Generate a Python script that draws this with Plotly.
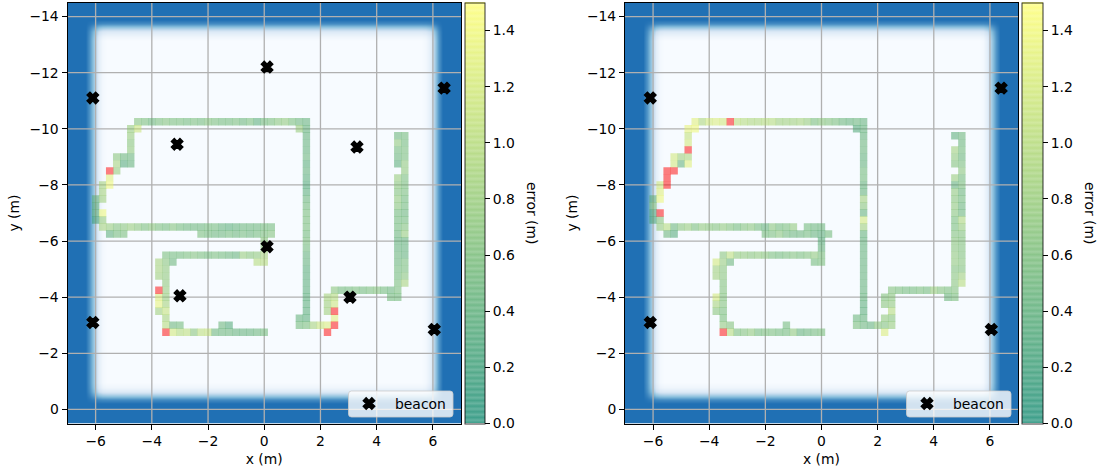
import plotly.graph_objects as go

R = 1.8  # value above the colour scale (drawn red)

beacon_x_left = [0.1, -6.1, 6.4, -3.1, 3.3, 0.1, -3.0, 3.05, -6.1, 6.05]
beacon_y_left = [-12.2, -11.1, -11.45, -9.45, -9.35, -5.8, -4.05, -4.0, -3.1, -2.85]
beacon_x_right = [-6.1, 6.4, -6.1, 6.05]
beacon_y_right = [-11.1, -11.45, -3.1, -2.85]

row_y = [-10.25, -10.0, -9.75, -9.5, -9.25, -9.0, -8.75, -8.5, -8.25, -8.0, -7.75, -7.5, -7.25, -7.0, -6.75,
         -6.5, -6.25, -6.0, -5.75, -5.5, -5.25, -5.0, -4.75, -4.5, -4.25, -4.0, -3.75, -3.5, -3.25, -3.0, -2.75]

left_x = [
    [-4.5, -4.25, -4, -3.75, -3.5, -3.25, -3, -2.75, -2.5, -2.25, -2, -1.75, -1.5, -1.25, -1, -.75, -.5, -.25, 0, .25, .5, .75, 1, 1.25, 1.5],
    [-4.75, -4.5, 1.25, 1.5],
    [-4.75, 1.5, 4.75, 5],
    [-4.75, 1.5, 4.75, 5],
    [-4.75, 1.5, 4.75, 5],
    [-5.25, -5, -4.75, 1.5, 4.75, 5],
    [-5.25, -5, -4.75, 1.5, 4.75, 5],
    [-5.5, -5.25, 1.5, 5],
    [-5.5, 1.5, 4.75, 5],
    [-5.75, -5.5, 1.5, 4.75, 5],
    [-5.75, 1.5, 4.75, 5],
    [-6, -5.75, 1.5, 4.75, 5],
    [-6, 1.5, 4.75, 5],
    [-6, -5.75, 1.5, 4.75, 5],
    [-6, -5.75, 1.5, 4.75, 5],
    [-5.75, -5.5, -5.25, -5, -4.75, -4.5, -4.25, -4, -3.75, -3.5, -3.25, -3, -2.75, -2.5, -2.25, -2, -1.75, -1.5, -1.25, -1, -.75, -.5, -.25, 0, .25, 1.5, 4.75, 5],
    [-5.5, -5.25, -5, -2.25, -2, -1.75, -1.5, -1.25, -1, -.75, -.5, -.25, 0, .25, 1.5, 4.75, 5],
    [0, 1.5, 4.75, 5],
    [0, 1.5, 4.75, 5],
    [-3.5, -3.25, -3, -2.75, -2.5, -2.25, -2, -1.75, -1.5, -1.25, -1, -.75, -.5, -.25, 0, 1.5, 4.75, 5],
    [-3.75, -3.5, -3.25, -.25, 0, 1.5, 4.75, 5],
    [-3.75, -3.5, 1.5, 4.75, 5],
    [-3.75, -3.5, 1.5, 4.75, 5],
    [-3.5, 1.5, 4.75, 5],
    [-3.75, -3.5, 1.5, 2.5, 2.75, 3, 3.25, 3.5, 3.75, 4, 4.25, 4.5, 4.75],
    [-3.75, -3.5, 1.5, 2.25, 2.5, 4.5, 4.75],
    [-3.75, -3.5, 1.5, 2.25, 2.5],
    [-3.75, -3.5, 1.5, 2.25, 2.5],
    [-3.5, 1.25, 1.5, 2.5],
    [-3.5, -3.25, -3, -1.5, -1.25, 1.25, 1.5, 1.75, 2, 2.25, 2.5],
    [-3.5, -3.25, -3, -2.75, -2.5, -2.25, -2, -1.75, -1.5, -1.25, -1, -.75, -.5, -.25, 0, 2.25],
]
left_err = [
    [.65, .6, .5, .6, .65, .6, .6, .55, .6, .55, .65, .6, .55, .55, .6, .5, .6, .4, .55, .6, .7, .75, .6, .5, .45],
    [.8, 1.15, .8, .45],
    [.8, .45, .5, .55],
    [.7, .45, .75, .55],
    [.75, .45, .55, .6],
    [.7, .5, .5, .5, .5, .6],
    [.9, .35, .45, .4, .4, .75],
    [R, .8, .45, .75],
    [1.3, .4, .8, .6],
    [.9, 1.4, .35, .7, .6],
    [.9, .4, .65, .6],
    [.5, .85, .5, .75, .55],
    [.45, .55, .7, .55],
    [.45, 1.4, .6, .55, .5],
    [.3, .8, .6, .55, .55],
    [.9, .8, .65, .7, .8, .7, .6, .7, .6, .55, .65, .55, .5, .5, .5, .55, .55, .45, .4, .45, .5, .5, .5, .55, .55, .6, .55, .65],
    [.4, .55, .6, .6, .55, .5, .5, .55, .5, .55, .5, .55, .6, .65, .55, .5, .8],
    [.7, .6, .45, .45],
    [.7, .55, .45, .45],
    [.6, .55, .55, .6, .65, .6, .55, .6, .55, .5, .45, .8, .7, .75, .9, .45, .5, .45],
    [.9, .7, .5, 1.0, 1.0, .45, .5, .6],
    [.9, .75, .4, .55, .6],
    [.85, .75, .4, .55, .7],
    [.75, .4, .6, .9],
    [R, .8, .4, .7, .55, .55, .6, .55, .6, .65, .55, .5, .6],
    [1.25, .8, .4, .9, 1.0, .55, .55],
    [1.35, .9, .4, .85, 1.15],
    [.85, 1.1, .4, .85, R],
    [.9, .45, .4, 1.3],
    [1.0, .5, .55, .5, .35, .55, .6, .9, 1.15, 1.25, R],
    [R, 1.2, 1.0, 1.05, .7, 1.05, 1.1, .5, .5, .5, .45, .45, .45, .5, .55, R],
]

right_x = [
    [-4.5, -4.25, -4, -3.75, -3.5, -3.25, -3, -2.75, -2.5, -2.25, -2, -1.75, -1.5, -1.25, -1, -.75, -.5, -.25, 0, .25, .5, .75, 1, 1.25, 1.5],
    [-4.75, -4.5, 1.25, 1.5],
    [-4.75, 1.5, 4.75, 5],
    [-4.75, 1.5, 5],
    [-4.75, 1.5, 4.75, 5],
    [-5.25, -5, -4.75, 1.5, 4.75, 5],
    [-5.25, -5, -4.75, 1.5, 4.75, 5],
    [-5.5, -5.25, 1.5, 5],
    [-5.5, 1.5, 4.75, 5],
    [-5.75, -5.5, 1.5, 4.75, 5],
    [-5.75, 1.5, 4.75, 5],
    [-6, -5.75, 1.5, 4.75, 5],
    [-6, 1.5, 4.75, 5],
    [-6, -5.75, 1.5, 4.75, 5],
    [-6, -5.75, 1.5, 4.75, 5],
    [-5.75, -5.5, -5.25, -5, -4.75, -4.5, -4.25, -4, -3.75, -3.5, -3.25, -3, -2.75, -2.5, -2.25, -2, -1.75, -1.5, -1.25, -1, -.5, -.25, 0, 1.5, 4.75, 5],
    [-5.5, -5.25, -2, -1.75, -1.5, -1.25, -1, -.75, -.5, -.25, 0, .25, 1.5, 4.75, 5],
    [0, 1.5, 4.75, 5],
    [0, 1.5, 4.75, 5],
    [-3.5, -3.25, -3, -2.75, -2.5, -2.25, -2, -1.75, -1.5, -1.25, -1, -.75, -.5, -.25, 0, 1.5, 4.75, 5],
    [-3.75, -3.5, -3.25, -.25, 0, 1.5, 4.75, 5],
    [-3.75, -3.5, 1.5, 4.75, 5],
    [-3.75, -3.5, 1.5, 4.75, 5],
    [-3.5, 1.5, 4.75, 5],
    [-3.5, 1.5, 2.5, 2.75, 3, 3.25, 3.5, 3.75, 4, 4.25, 4.5, 4.75],
    [-3.75, -3.5, 1.5, 2.25, 2.5, 4.5, 4.75],
    [-3.75, -3.5, 1.5, 2.25, 2.5],
    [-3.75, -3.5, 1.5, 2.5],
    [-3.5, 1.25, 1.5, 2.25, 2.5],
    [-3.5, -3.25, -1.25, 1.25, 1.5, 1.75, 2, 2.25, 2.5],
    [-3.5, -3.25, -3, -2.75, -2.5, -2.25, -2, -1.75, -1.5, -1.25, -1, -.75, -.5, -.25, 0, 2.25],
]
right_err = [
    [1.3, .95, 1.2, 1.25, 1.2, R, 1.05, 1.0, .95, .95, 1.0, 1.0, .85, .85, .85, .9, .8, .6, .7, .65, .6, .5, .45, .5, .45],
    [1.35, 1.4, .35, .45],
    [1.1, .45, .4, .5],
    [1.2, .5, .5],
    [R, .5, .85, .55],
    [1.2, .85, .95, .45, .75, .5],
    [1.2, .45, 1.3, .45, .65, .6],
    [R, R, .55, .7],
    [R, .55, .8, .55],
    [1.2, R, .45, .45, .6],
    [1.3, .45, .75, .5],
    [.5, 1.4, .85, .7, .55],
    [.7, .7, .75, .5],
    [.4, R, .45, .7, .5],
    [.35, .7, 1.2, .6, .95],
    [.8, 1.0, .5, .7, .8, .6, .75, .7, .65, .75, .65, .55, .65, .7, .55, .45, .7, .55, .6, .75, .55, .5, .5, .85, .6, .8],
    [.5, .35, .55, .6, .7, .55, .5, .5, .55, .45, .4, .55, .45, .65, .65],
    [.4, .45, .7, .65],
    [.45, .45, .7, .65],
    [.7, 1.05, .75, .75, .7, .75, .7, .6, .55, .6, .65, .6, .65, .75, .6, .45, .75, .65],
    [1.2, .8, .5, .55, .6, .45, .75, .7],
    [.85, .7, .45, .65, .65],
    [.85, .7, .45, .7, .85],
    [.65, .45, .7, 1.0],
    [.65, .45, .65, .6, .55, .55, .6, .55, .8, .65, .6, .65],
    [1.2, .65, .45, .65, .7, .5, .6],
    [.9, .65, .4, .7, .75],
    [.7, .6, .4, 1.0],
    [.6, .5, .45, .75, .7],
    [.75, .65, .55, .6, .5, .45, .7, .65, .8],
    [R, 1.0, .6, .65, .75, .55, .6, .6, .55, .55, .75, .45, .5, .55, .6, 1.25],
]

# background confidence map: fade values along each axis (1 = outside the mapped area)
bg_x = [-7, -6.35, -6.2, -6.05, -5.9, -5.75, -5.6, 5.6, 5.75, 5.9, 6.05, 6.2, 6.35, 7]
bg_x_fade = [1, 1, .8, .45, .15, .03, 0, 0, .03, .15, .45, .8, 1, 1]
bg_y = [-14.5, -13.9, -13.75, -13.6, -13.45, -13.3, -13.15, -0.95, -0.8, -0.65, -0.5, -0.35, -0.2, 0.5]
bg_y_fade = [1, 1, .85, .5, .2, .06, 0, 0, .06, .2, .5, .85, 1, 1]
bg_z = [[1 - (1 - a) * (1 - b) for a in bg_x_fade] for b in bg_y_fade]

x_ticks = [-6, -4, -2, 0, 2, 4, 6]
y_ticks = [-14, -12, -10, -8, -6, -4, -2, 0]

W, H = 1102, 474
FONT = "DejaVu Sans"
FS = 13.9
TOP, BOTTOM = 2.5, 423.5
summer = [[0, "rgba(0,128,102,0.5)"], [1, "rgba(255,255,102,0.5)"]]
blues = [[0, "#f7fbff"], [0.3, "#cfe1f2"], [0.6, "#84bcdb"], [1, "#2070b4"]]

# colour bar: same colormap, with the stripes of overlapping translucent bands
BANDS = 150
summer_bar = []
for k in range(BANDS + 1):
    t = k / BANDS
    a = 0.62 if k % 2 else 0.76
    summer_bar.append([t, f"rgba({255 * t:.0f},{128 + 127 * t:.0f},102,{a})"])


def flat(xs, errs, over):
    px, py, pe = [], [], []
    for y, xrow, erow in zip(row_y, xs, errs):
        for x, e in zip(xrow, erow):
            if (e > 1.5) == over:
                px.append(x); py.append(y); pe.append(e)
    return px, py, pe


def add_panel(fig, xs, errs, bx, by, xa, ya, leg, cbx, thick):
    fig.add_trace(go.Heatmap(x=bg_x, y=bg_y, z=bg_z, zsmooth="best", zmin=0, zmax=1, colorscale=blues,
                             showscale=False, hoverinfo="skip", xaxis=xa, yaxis=ya))
    gx, gy = [], []
    for t in x_ticks:
        gx += [t, t, None]; gy += [-14.5, 0.5, None]
    for t in y_ticks:
        gx += [-7, 7, None]; gy += [t, t, None]
    fig.add_trace(go.Scatter(x=gx, y=gy, mode="lines", line=dict(color="#b0b0b0", width=1.3),
                             showlegend=False, hoverinfo="skip", xaxis=xa, yaxis=ya))
    px, py, pe = flat(xs, errs, False)
    fig.add_trace(go.Scatter(x=px, y=py, mode="markers", showlegend=False, xaxis=xa, yaxis=ya,
        marker=dict(symbol="square", size=7.4, color=pe, cmin=0, cmax=1.5, colorscale=summer, line=dict(width=0))))
    # invisible carrier of the colour bar
    fig.add_trace(go.Scatter(x=px[:1], y=py[:1], mode="markers", showlegend=False, hoverinfo="skip", xaxis=xa, yaxis=ya,
        marker=dict(opacity=0, size=1, color=pe[:1], cmin=0, cmax=1.5, colorscale=summer_bar, line=dict(width=0),
                    colorbar=dict(x=cbx / W, xanchor="left", xpad=0, y=1 - TOP / H, yanchor="top", ypad=0,
                                  lenmode="pixels", len=BOTTOM - TOP, thickness=thick, thicknessmode="pixels",
                                  outlinecolor="rgba(0,0,0,0.8)", outlinewidth=1, ticks="outside", ticklen=5, tickcolor="black",
                                  tick0=0, dtick=0.2, tickformat=".1f", tickfont=dict(family=FONT, size=FS, color="black")))))
    rx, ry, _ = flat(xs, errs, True)
    fig.add_trace(go.Scatter(x=rx, y=ry, mode="markers", showlegend=False, xaxis=xa, yaxis=ya,
        marker=dict(symbol="square", size=7.4, color="rgba(255,0,0,0.5)", line=dict(width=0))))
    fig.add_trace(go.Scatter(x=bx, y=by, mode="markers", name="beacon", legend=leg, xaxis=xa, yaxis=ya,
        marker=dict(symbol="x", size=10, color="black", line=dict(width=1.5, color="black"))))


def legend_frame(x0, x1, y0, y1, r=3):
    fx = lambda v: v / W
    fy = lambda v: 1 - v / H
    d = (f"M {fx(x0 + r)} {fy(y0)} L {fx(x1 - r)} {fy(y0)} Q {fx(x1)} {fy(y0)} {fx(x1)} {fy(y0 + r)} "
         f"L {fx(x1)} {fy(y1 - r)} Q {fx(x1)} {fy(y1)} {fx(x1 - r)} {fy(y1)} "
         f"L {fx(x0 + r)} {fy(y1)} Q {fx(x0)} {fy(y1)} {fx(x0)} {fy(y1 - r)} "
         f"L {fx(x0)} {fy(y0 + r)} Q {fx(x0)} {fy(y0)} {fx(x0 + r)} {fy(y0)} Z")
    return dict(type="path", xref="paper", yref="paper", path=d, fillcolor="rgba(255,255,255,0.8)",
                line=dict(color="rgba(204,204,204,0.8)", width=1), layer="above")


fig = go.Figure()
add_panel(fig, left_x, left_err, beacon_x_left, beacon_y_left, "x", "y", "legend", 465, 20)
add_panel(fig, right_x, right_err, beacon_x_right, beacon_y_right, "x2", "y2", "legend2", 1022, 21)

axis = dict(showgrid=False, zeroline=False, showline=True, linecolor="black", linewidth=1, mirror=True, ticks="outside",
            ticklen=5, tickcolor="black", tickfont=dict(family=FONT, size=FS, color="black"))
xtitle = dict(text="x (m)", standoff=6, font=dict(family=FONT, size=FS, color="black"))
ytitle = dict(text="y (m)", standoff=6, font=dict(family=FONT, size=FS, color="black"))
dom_y = [1 - BOTTOM / H, 1 - TOP / H]
legend_style = dict(bgcolor="rgba(0,0,0,0)", borderwidth=0, itemwidth=42,
                    font=dict(family=FONT, size=FS, color="black"), xanchor="left", yanchor="top")
fig.update_layout(
    width=W, height=H, margin=dict(l=0, r=0, t=0, b=0), paper_bgcolor="white", plot_bgcolor="white",
    xaxis=dict(axis, domain=[67.5 / W, 461 / W], range=[-7, 7], tickvals=x_ticks, title=xtitle, anchor="y"),
    yaxis=dict(axis, domain=dom_y, range=[0.5, -14.5], tickvals=y_ticks, title=ytitle, anchor="x"),
    xaxis2=dict(axis, domain=[625 / W, 1018 / W], range=[-7, 7], tickvals=x_ticks, title=xtitle, anchor="y2"),
    yaxis2=dict(axis, domain=dom_y, range=[0.5, -14.5], tickvals=y_ticks, title=ytitle, anchor="x2"),
    legend=dict(legend_style, x=343 / W, y=1 - 388 / H),
    legend2=dict(legend_style, x=901 / W, y=1 - 388 / H),
    shapes=[legend_frame(348.5, 453, 391, 417), legend_frame(906.5, 1011, 391, 417)],
    annotations=[
        dict(text="error (m)", textangle=90, xref="paper", yref="paper", x=cx / W, y=1 - 213 / H,
             xanchor="center", yanchor="middle", showarrow=False, font=dict(family=FONT, size=FS, color="black"))
        for cx in (532, 1090)
    ],
)
fig.write_html("out.html", config=dict(displayModeBar=False),
               post_script="document.body.style.margin='0';document.body.style.overflow='hidden';")
